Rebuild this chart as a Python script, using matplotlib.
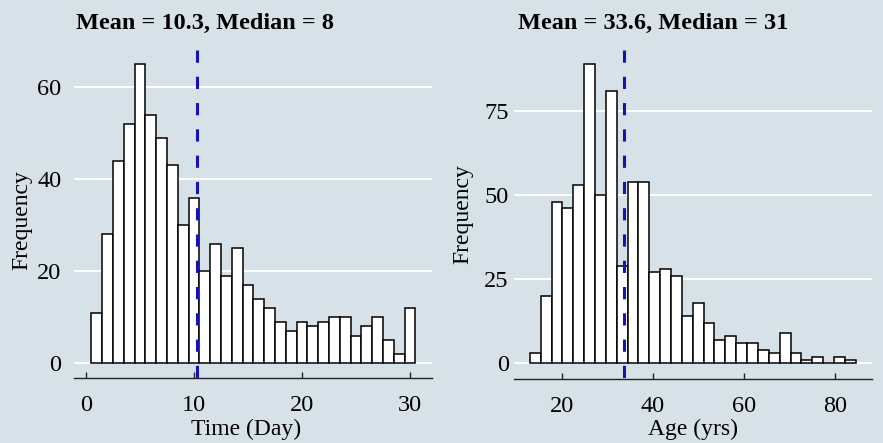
import numpy as np
import matplotlib.pyplot as plt

# left panel: time in days, one bar per day
days = list(range(1, 31))
day_counts = [11, 28, 44, 52, 65, 54, 49, 43, 30, 36, 20, 26, 19, 25, 17,
              14, 12, 9, 7, 9, 8, 9, 10, 10, 6, 8, 10, 5, 2, 12]
day_mean, day_median = 10.3, 8

# right panel: age in years
age_start, age_width = 13.0, 2.385
age_counts = [3, 20, 48, 46, 53, 89, 50, 81, 29, 54, 54, 27, 28, 26, 14,
              18, 12, 7, 8, 6, 6, 4, 3, 9, 3, 1, 2, 0, 2, 1]
age_mean, age_median = 33.6, 31

bg = '#D6E2E7'
plt.rcParams['font.family'] = ['Liberation Serif', 'DejaVu Serif']


def style_axes(ax, xticks, yticks, xlim, ylim, ypad):
    ax.set_facecolor(bg)
    for s in ['top', 'right', 'left']:
        ax.spines[s].set_visible(False)
    ax.spines['bottom'].set_color('#222222')
    ax.spines['bottom'].set_linewidth(1.0)
    ax.set_xlim(*xlim)
    ax.set_ylim(*ylim)
    ax.set_xticks(xticks)
    ax.set_yticks(yticks)
    ax.yaxis.grid(True, color='white', linewidth=1.4)
    ax.set_axisbelow(True)
    ax.tick_params(axis='x', direction='in', length=4, width=1.0,
                   color='#222222', labelsize=17.5, pad=12)
    ax.tick_params(axis='y', length=0, labelsize=17.5, pad=ypad)


def mean_line(ax, x):
    lo, hi = ax.get_ylim()
    ax.plot([x, x], [hi, lo], color='#1414B4', linewidth=2.2,
            linestyle=(0, (4, 4.6)), solid_capstyle='butt', zorder=5)


fig = plt.figure(figsize=(8.83, 4.43), dpi=100, facecolor=bg)

ax1 = fig.add_axes([74 / 883, 65 / 443, 358 / 883, 328 / 443])
ax1.bar(days, day_counts, width=1.0, color='white', edgecolor='black',
        linewidth=1.1, zorder=3)
style_axes(ax1, [0, 10, 20, 30], [0, 20, 40, 60], (-1.11, 32.04), (-3.2, 68.1), 9)
mean_line(ax1, day_mean)
ax1.set_xlabel('Time (Day)', fontsize=17)
ax1.set_ylabel('Frequency', fontsize=17)
ax1.xaxis.set_label_coords(0.48, -0.124)
ax1.yaxis.set_label_coords(-0.117, 0.48)

ax2 = fig.add_axes([514.3 / 883, 64 / 443, 357.4 / 883, 329 / 443])
age_edges = age_start + age_width * np.arange(len(age_counts))
ax2.bar(age_edges, age_counts, width=age_width, align='edge', color='white',
        edgecolor='black', linewidth=1.1, zorder=3)
style_axes(ax2, [20, 40, 60, 80], [0, 25, 50, 75], (9.59, 88.06), (-4.67, 93.1), 4)
mean_line(ax2, age_mean)
ax2.set_xlabel('Age (yrs)', fontsize=17)
ax2.set_ylabel('Frequency', fontsize=17)
ax2.xaxis.set_label_coords(0.5, -0.121)
ax2.yaxis.set_label_coords(-0.115, 0.5)

fig.text(205 / 883, 1 - 23 / 443, f'Mean = {day_mean}, Median = {day_median}',
         ha='center', va='center', fontsize=17.5, fontweight='bold')
fig.text(653 / 883, 1 - 23 / 443, f'Mean = {age_mean}, Median = {age_median}',
         ha='center', va='center', fontsize=17.5, fontweight='bold')

fig.savefig('out.png', dpi=100, facecolor=bg)
